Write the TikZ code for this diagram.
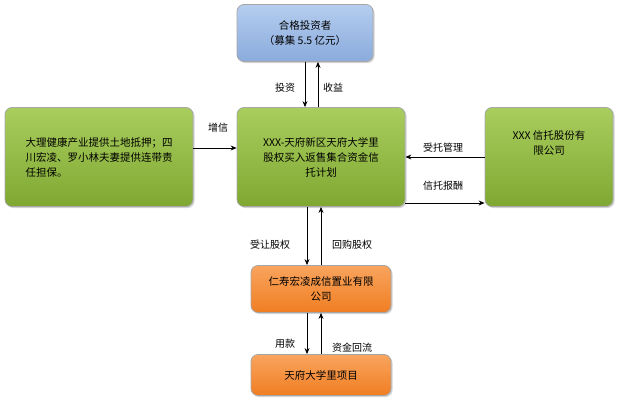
\documentclass[tikz,border=0pt]{standalone}
\usepackage{fontspec}
\setmainfont{Noto Sans CJK SC}
\usetikzlibrary{shadows,arrows.meta}
\definecolor{gA}{HTML}{A9CD5E}\definecolor{gB}{HTML}{7FA832}
\definecolor{bA}{HTML}{B5CDEF}\definecolor{bB}{HTML}{8AABDC}
\definecolor{oA}{HTML}{F9A45E}\definecolor{oB}{HTML}{F07E22}
\begin{document}
\begin{tikzpicture}[x=1pt,y=-1pt,
 box/.style={draw=gray!70,line width=0.8pt,rounded corners=7pt,drop shadow={opacity=0.35,shadow xshift=1.5pt,shadow yshift=-1.5pt},font=\fontsize{10.5}{15}\selectfont,align=center,inner sep=4pt},
 green/.style={box,top color=gA,bottom color=gB},
 blue/.style={box,top color=bA,bottom color=bB},
 orange/.style={box,top color=oA,bottom color=oB},
 arr/.style={-{Stealth[length=6pt,width=5pt]},line width=0.8pt},
 lab/.style={font=\fontsize{10}{12}\selectfont}]
\useasboundingbox (0,0) rectangle (620,415);
\node[blue,minimum width=136pt,minimum height=57pt] (inv) at (305,33) {合格投资者\\（募集 5.5 亿元）};
\node[green,minimum width=188pt,minimum height=99pt,align=left] (l) at (99,157) {大理健康产业提供土地抵押；四\\川宏凌、罗小林夫妻提供连带责\\任担保。};
\node[green,minimum width=168pt,minimum height=99pt] (c) at (321,157) {XXX-天府新区天府大学里\\股权买入返售集合资金信\\托计划};
\node[green,minimum width=128pt,minimum height=99pt] (r) at (549,157) {};
\node[font=\fontsize{10.5}{15}\selectfont,align=center] (rt) at (549,143) {XXX 信托股份有\\限公司};
\node[orange,minimum width=140pt,minimum height=47pt] (o1) at (321,289) {仁寿宏凌成信置业有限\\公司};
\node[orange,minimum width=140pt,minimum height=41pt] (o2) at (321,375) {天府大学里项目};
\draw[arr] (inv.south -| 305,0) -- (c.north -| 305,0);
\draw[arr] (c.north -| 318,0) -- (inv.south -| 318,0);
\node[lab] at (285,88) {投资};
\node[lab] at (333,88) {收益};
\draw[arr] (l.east |- 0,148) -- (c.west |- 0,148);
\node[lab] at (218,128) {增信};
\draw[arr] (r.west |- 0,157) -- (c.east |- 0,157);
\node[lab] at (443,148) {受托管理};
\draw[arr] (c.east |- 0,203) -- (r.west |- 0,203);
\node[lab] at (443,186) {信托报酬};
\draw[arr] (c.south -| 307,0) -- (o1.north -| 307,0);
\draw[arr] (o1.north -| 321,0) -- (c.south -| 321,0);
\node[lab] at (270,245) {受让股权};
\node[lab] at (352,245) {回购股权};
\draw[arr] (o1.south -| 307,0) -- (o2.north -| 307,0);
\draw[arr] (o2.north -| 321,0) -- (o1.south -| 321,0);
\node[lab] at (285,344) {用款};
\node[lab] at (352,348) {资金回流};
\end{tikzpicture}
\end{document}
